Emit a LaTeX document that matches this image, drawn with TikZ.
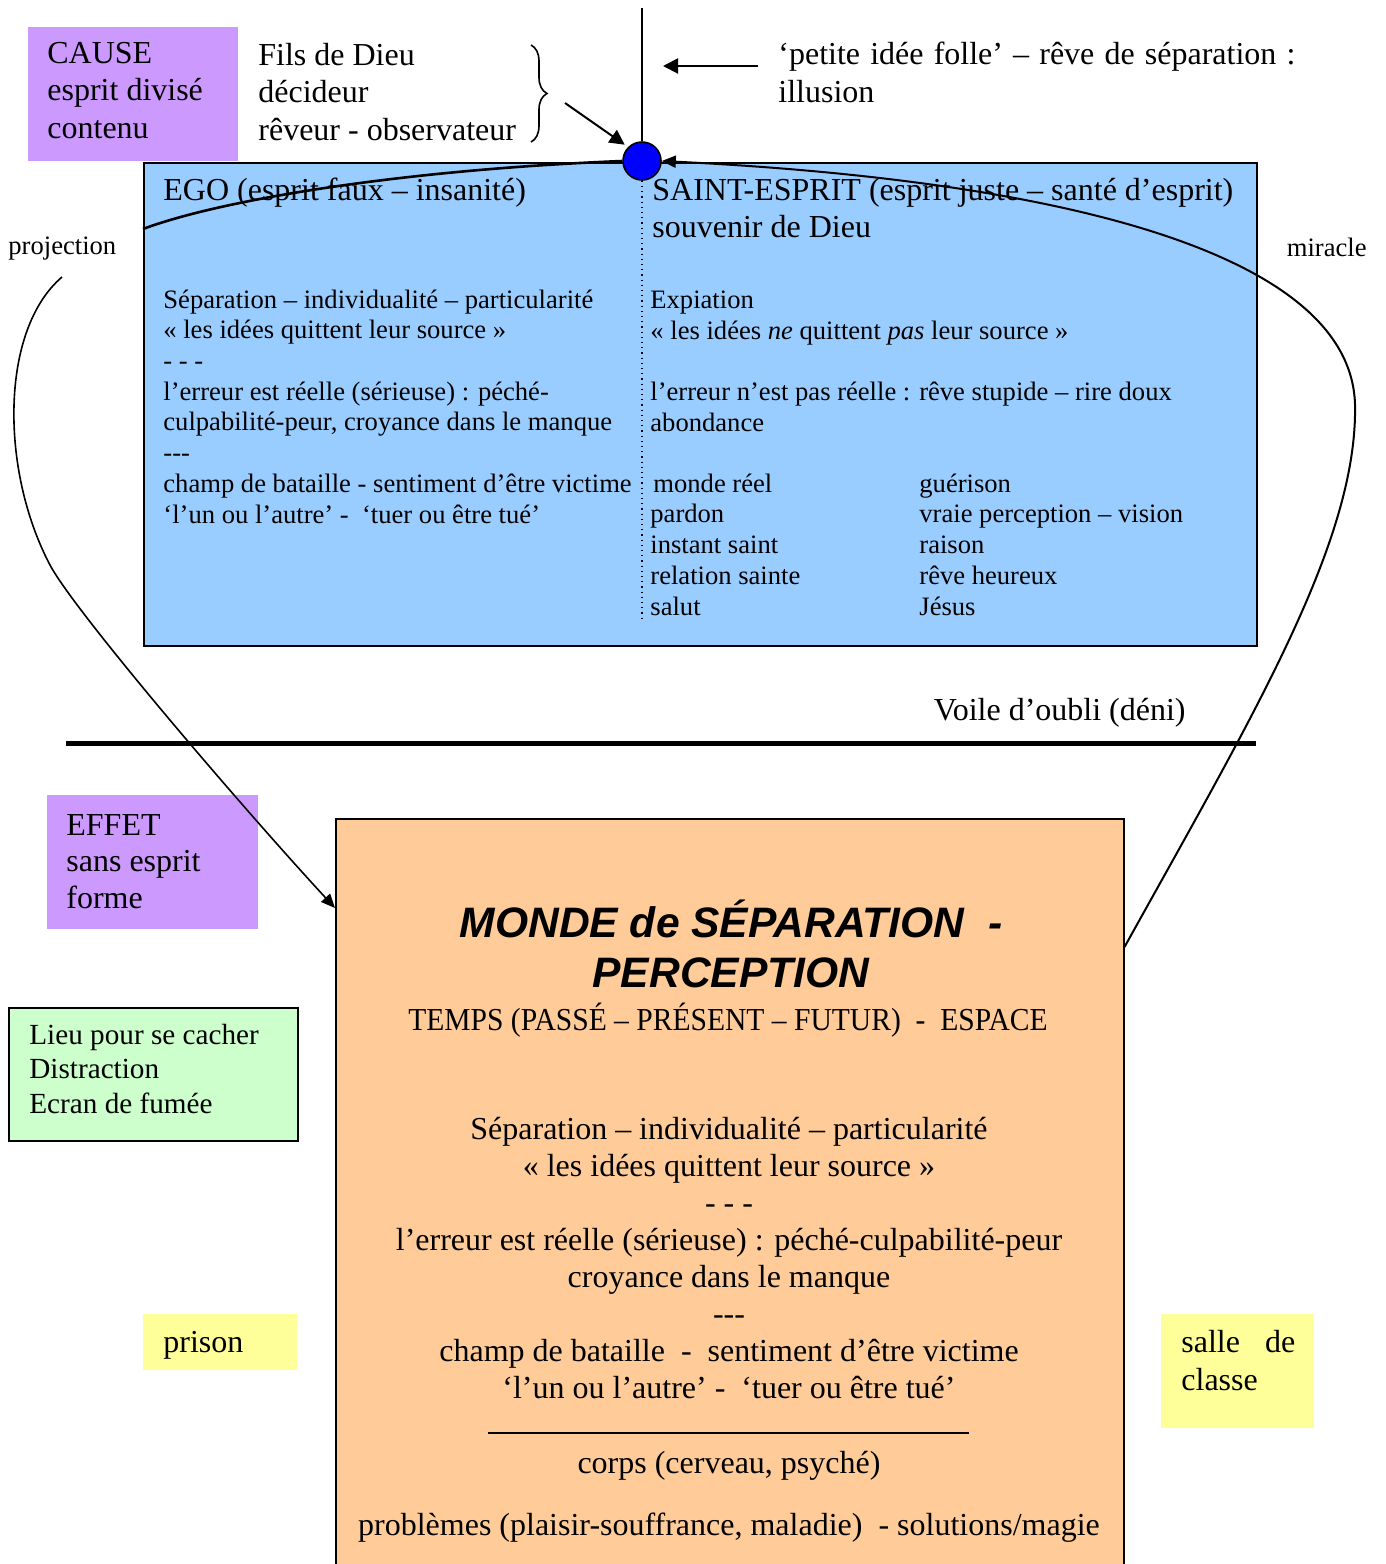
\documentclass[tikz,border=0pt]{standalone}
\usepackage{graphicx}
\usepackage{fontspec}
\setmainfont{Liberation Serif}
\newfontfamily\arialfont{Liberation Sans}
\usetikzlibrary{arrows.meta,decorations.pathreplacing}
\definecolor{mauve}{HTML}{CC99FF}
\definecolor{ciel}{HTML}{99CCFF}
\definecolor{peche}{HTML}{FFCC99}
\definecolor{menthe}{HTML}{CCFFCC}
\definecolor{jaune}{HTML}{FFFF99}
\tikzstyle{boxStyle}=[shape = rectangle, anchor = north west, inner sep = 0pt]
\tikzstyle{framedBox}=[boxStyle, draw, line width = 0.75pt]
\tikzstyle{bigText}=[anchor = base west, inner sep = 0pt, align = left, font = \fontsize{16}{18.75}\selectfont]
\tikzstyle{smallText}=[anchor = base west, inner sep = 0pt, align = left, font = \fontsize{13.3}{15.35}\selectfont]
\tikzstyle{midText}=[anchor = base, inner sep = 0pt, align = center, font = \fontsize{16}{18.45}\selectfont]
\tikzstyle{curveStyle}=[line width = 0.8pt, -{Triangle[length = 7pt, width = 6pt]}]

\begin{document}
\begin{tikzpicture}[x = 0.5pt, y = -0.5pt]
\tikzstyle{arrowStyle}=[line width = 1pt, -{Triangle[length = 7.5pt, width = 7.5pt]}]
\useasboundingbox (0,0) rectangle (1386,1564);
% boxes
\node[boxStyle, fill = mauve, minimum width = 105pt, minimum height = 67pt] (cause) at (28,27) {};
\node[framedBox, fill = ciel, minimum width = 556.5pt, minimum height = 241.5pt] (ego) at (143,162) {};
\node[boxStyle, fill = mauve, minimum width = 105.5pt, minimum height = 67pt] (effet) at (47,795) {};
\node[framedBox, fill = peche, minimum width = 394pt, minimum height = 380pt] (monde) at (335,818) {};
\node[framedBox, fill = menthe, minimum width = 144.5pt, minimum height = 66.5pt] (cacher) at (8,1007) {};
\node[boxStyle, fill = jaune, minimum width = 77pt, minimum height = 28pt] (prison) at (143,1314) {};
\node[boxStyle, fill = jaune, minimum width = 76.5pt, minimum height = 57pt] (salle) at (1161,1314) {};
% top texts (base = last line)
\node[bigText] (causeText) at (47,138) {CAUSE\\esprit divisé\\contenu};
\node[bigText] (filsText) at (258,140) {Fils de Dieu\\décideur\\rêveur - observateur};
\node[bigText] (folleText) at (778,102) {\makebox[258.5pt][s]{‘petite idée folle’ – rêve de séparation :}\\illusion};
% blue box
\node[bigText] (egoTitle) at (163,200) {EGO (esprit faux – insanité)};
\node[bigText, font = \fontsize{16}{18.5}\selectfont] (saintTitle) at (652,237) {SAINT-ESPRIT (esprit juste – santé d’esprit)\\souvenir de Dieu};
\node[smallText] (egoList) at (163,523) {Séparation – individualité – particularité\\« les idées quittent leur source »\\- - -\\l’erreur est réelle (sérieuse) : péché-\\culpabilité-peur, croyance dans le manque\\-{}-{}-\\champ de bataille - sentiment d’être victime\\‘l’un ou l’autre’ -\ \ ‘tuer ou être tué’};
\node[smallText] (saintList) at (650,339) {Expiation\\« les idées \emph{ne} quittent \emph{pas} leur source »};
\node[smallText] (saintErreur) at (650,431) {l’erreur n’est pas réelle : rêve stupide – rire doux\\abondance};
\node[smallText] (saintColA) at (650,615) {\hspace*{1.5pt}monde réel\\pardon\\instant saint\\relation sainte\\salut};
\node[smallText] (saintColB) at (919,615) {guérison\\vraie perception – vision\\raison\\rêve heureux\\Jésus};
\node[smallText] (projLabel) at (8,254) {projection};
\node[smallText, anchor = base east] (miracleLabel) at (1367,256) {miracle};
% veil
\node[bigText, anchor = base east] (voile) at (1186,720) {Voile d’oubli (déni)};
\draw[line width = 2.5pt] (66,743) -- (1256,743);
% lower texts
\node[bigText, font = \fontsize{16}{18.25}\selectfont] (effetText) at (66,908) {EFFET\\sans esprit\\forme};
\node[anchor = base, inner sep = 0pt, align = center, font = \arialfont\bfseries\itshape\fontsize{21.3}{25}\selectfont] (mondeTitle) at (731,987) {MONDE de SÉPARATION\ \ -\\PERCEPTION};
\node[midText] (temps) at (728,1030) {\scalebox{0.924}[1]{TEMPS (PASSÉ – PRÉSENT – FUTUR)\ \ -\ \ ESPACE}};
\node[midText] (mondeList) at (729,1398) {Séparation – individualité – particularité\\« les idées quittent leur source »\\- - -\\l’erreur est réelle (sérieuse) : péché-culpabilité-peur\\croyance dans le manque\\-{}-{}-\\champ de bataille\ \ -\ \ sentiment d’être victime\\‘l’un ou l’autre’ -\ \ ‘tuer ou être tué’};
\draw[line width = 1pt] (488,1433) -- (969,1433);
\node[midText] (corps) at (729,1473) {corps (cerveau, psyché)};
\node[midText] (problemes) at (729,1535) {problèmes (plaisir-souffrance, maladie)\ \ - solutions/magie};
\node[anchor = base west, inner sep = 0pt, align = left, font = \fontsize{14.6}{17.25}\selectfont] (cacherText) at (29,1113) {Lieu pour se cacher\\Distraction\\Ecran de fumée};
\node[bigText] (prisonText) at (163,1352) {prison};
\node[bigText, font = \fontsize{16}{19}\selectfont] (salleText) at (1181,1390) {\makebox[57pt][s]{salle de}\\classe};
% dot and connectors
\node[circle, draw, fill = blue, line width = 0.8pt, minimum size = 19pt, inner sep = 0pt] (dot) at (642,161) {};
\coordinate (top) at (642,8);
\coordinate (split) at (642,620);
\coordinate (folleTail) at (758,66);
\coordinate (folleTip) at (663,66);
\coordinate (braceTail) at (565,103);
\coordinate (projStart) at (62,277);
\draw[line width = 0.7pt] (top) -- (dot.north);
\draw[dotted, line width = 0.6pt] (dot.south) -- (split);
\draw[arrowStyle] (folleTail) -- (folleTip);
\draw[arrowStyle, shorten > = 2pt] (braceTail) -- (dot.135);
\draw[decorate, decoration = {brace, amplitude = 8pt}, line width = 0.8pt] (531,45) -- (531,142);
\draw[line width = 1.3pt] ([yshift = -33.5pt]ego.north west) .. controls (220,200) and (400,170) .. (dot.west);
\draw[curveStyle] (projStart) .. controls (0,330) and (0,470) .. (50,565) .. controls (75,612) and (240,805) .. ([yshift = -45pt]monde.north west);
\draw[curveStyle, line width = 1pt] ([yshift = -64.5pt]monde.north east) .. controls (1255,712) and (1358,540) .. (1355,404) .. controls (1350,250) and (1050,180) .. (dot.east);
\end{tikzpicture}
\end{document}
